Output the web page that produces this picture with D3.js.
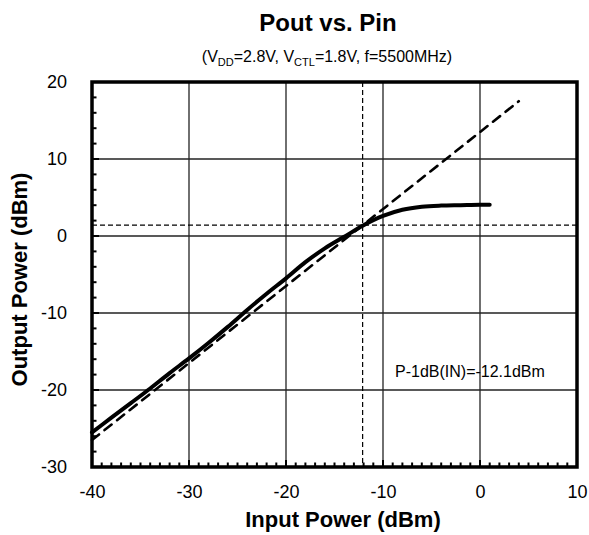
<!DOCTYPE html>
<html>
<head>
<meta charset="utf-8">
<script src="https://cdn.jsdelivr.net/npm/d3@7"></script>
<style>
  html, body { margin: 0; padding: 0; background: #fff; }
  svg { display: block; font-family: "Liberation Sans", Arial, sans-serif; }
</style>
</head>
<body>
<svg id="chart" width="589" height="535"></svg>
<script>
// ---- data ----
const pinValues  = [-40, -38, -36, -34, -32, -30, -28, -26, -24, -22, -20, -18, -16, -14, -12, -10, -8, -6, -4, -2, 0, 1];
const poutValues = [-25.5, -23.6, -21.7, -19.8, -17.8, -15.9, -13.9, -11.8, -9.6, -7.5, -5.5, -3.4, -1.6, -0.1, 1.4, 2.6, 3.4, 3.8, 3.95, 4.0, 4.05, 4.05];
const linearPin  = [-40, 4];
const linearPout = [-26.5, 17.5];
const p1dbIn  = -12.1;
const p1dbOut = 1.4;
const xTicks = [-40, -30, -20, -10, 0, 10];
const yTicks = [-30, -20, -10, 0, 10, 20];
const titleText = "Pout vs. Pin";
const xTitle = "Input Power (dBm)";
const yTitle = "Output Power (dBm)";
const noteText = "P-1dB(IN)=-12.1dBm";

// ---- layout ----
const svg = d3.select("#chart");
const W = 589, H = 535;
const m = { left: 92, right: 12, top: 82, bottom: 68 };
const pw = W - m.left - m.right, ph = H - m.top - m.bottom;

const x = d3.scaleLinear().domain([-40, 10]).range([m.left, m.left + pw]);
const y = d3.scaleLinear().domain([-30, 20]).range([m.top + ph, m.top]);

// grid
const g = svg.append("g");
g.selectAll(".vg").data(xTicks.slice(1, -1)).enter().append("line")
  .attr("x1", d => x(d)).attr("x2", d => x(d))
  .attr("y1", m.top).attr("y2", m.top + ph)
  .attr("stroke", "#222").attr("stroke-width", 1.3);
g.selectAll(".hg").data(yTicks.slice(1, -1)).enter().append("line")
  .attr("y1", d => y(d)).attr("y2", d => y(d))
  .attr("x1", m.left).attr("x2", m.left + pw)
  .attr("stroke", "#222").attr("stroke-width", 1.3);

// minor ticks (inward)
const xMinor = d3.range(-40, 10.001, 1);
const yMinor = d3.range(-30, 20.001, 2);
g.selectAll(".xm").data(xMinor).enter().append("line")
  .attr("x1", d => x(d)).attr("x2", d => x(d))
  .attr("y1", m.top + ph).attr("y2", d => m.top + ph - (d % 10 === 0 ? 7 : 4.5))
  .attr("stroke", "#000").attr("stroke-width", 2);
g.selectAll(".ym").data(yMinor).enter().append("line")
  .attr("y1", d => y(d)).attr("y2", d => y(d))
  .attr("x1", m.left).attr("x2", d => m.left + (d % 10 === 0 ? 7 : 4.5))
  .attr("stroke", "#000").attr("stroke-width", 2);

// P1dB reference dashed lines
g.append("line")
  .attr("x1", x(p1dbIn)).attr("x2", x(p1dbIn))
  .attr("y1", m.top).attr("y2", m.top + ph)
  .attr("stroke", "#000").attr("stroke-width", 1.2).attr("stroke-dasharray", "5,3");
g.append("line")
  .attr("x1", m.left).attr("x2", m.left + pw)
  .attr("y1", y(p1dbOut)).attr("y2", y(p1dbOut))
  .attr("stroke", "#000").attr("stroke-width", 1.2).attr("stroke-dasharray", "5,3");

// linear extrapolation (dashed)
const linData = linearPin.map((d, i) => [d, linearPout[i]]);
g.append("path").datum(linData)
  .attr("d", d3.line().x(d => x(d[0])).y(d => y(d[1])))
  .attr("fill", "none").attr("stroke", "#000").attr("stroke-width", 2.6)
  .attr("stroke-dasharray", "9,7").attr("stroke-linecap", "round");

// measured curve
const curve = pinValues.map((d, i) => [d, poutValues[i]]);
g.append("path").datum(curve)
  .attr("d", d3.line().curve(d3.curveMonotoneX).x(d => x(d[0])).y(d => y(d[1])))
  .attr("fill", "none").attr("stroke", "#000").attr("stroke-width", 4)
  .attr("stroke-linecap", "round").attr("stroke-linejoin", "round");

// frame
svg.append("rect").attr("x", m.left).attr("y", m.top).attr("width", pw).attr("height", ph)
  .attr("fill", "none").attr("stroke", "#000").attr("stroke-width", 3.5);

// axes labels via d3 axes (no lines)
const fmt = d => String(d);
const xAxis = svg.append("g").attr("transform", `translate(0,${m.top + ph})`)
  .call(d3.axisBottom(x).tickValues(xTicks).tickSize(0).tickPadding(18).tickFormat(fmt));
xAxis.select(".domain").remove();
xAxis.selectAll("text").attr("font-size", 18).attr("fill", "#000")
  .attr("font-family", "Liberation Sans, Arial, sans-serif");

const yAxis = svg.append("g").attr("transform", `translate(${m.left},0)`)
  .call(d3.axisLeft(y).tickValues(yTicks).tickSize(0).tickPadding(25).tickFormat(fmt));
yAxis.select(".domain").remove();
yAxis.selectAll("text").attr("font-size", 18).attr("fill", "#000")
  .attr("font-family", "Liberation Sans, Arial, sans-serif");

// titles
svg.append("text").attr("x", 328).attr("y", 31).attr("text-anchor", "middle")
  .attr("font-size", 24).attr("font-weight", "bold").text(titleText);

const sub = svg.append("text").attr("x", 327).attr("y", 62).attr("text-anchor", "middle")
  .attr("font-size", 16);
sub.append("tspan").text("(V");
sub.append("tspan").attr("font-size", 11).attr("dy", 4).text("DD");
sub.append("tspan").attr("dy", -4).text("=2.8V, V");
sub.append("tspan").attr("font-size", 11).attr("dy", 4).text("CTL");
sub.append("tspan").attr("dy", -4).text("=1.8V, f=5500MHz)");

svg.append("text").attr("x", 343).attr("y", 527).attr("text-anchor", "middle")
  .attr("font-size", 22).attr("font-weight", "bold").text(xTitle);

svg.append("text").attr("transform", `translate(27,${(m.top + m.top + ph) / 2 + 5}) rotate(-90)`)
  .attr("text-anchor", "middle").attr("font-size", 22).attr("font-weight", "bold").text(yTitle);

svg.append("text").attr("x", 395).attr("y", 377).attr("font-size", 16).text(noteText);
</script>
</body>
</html>
